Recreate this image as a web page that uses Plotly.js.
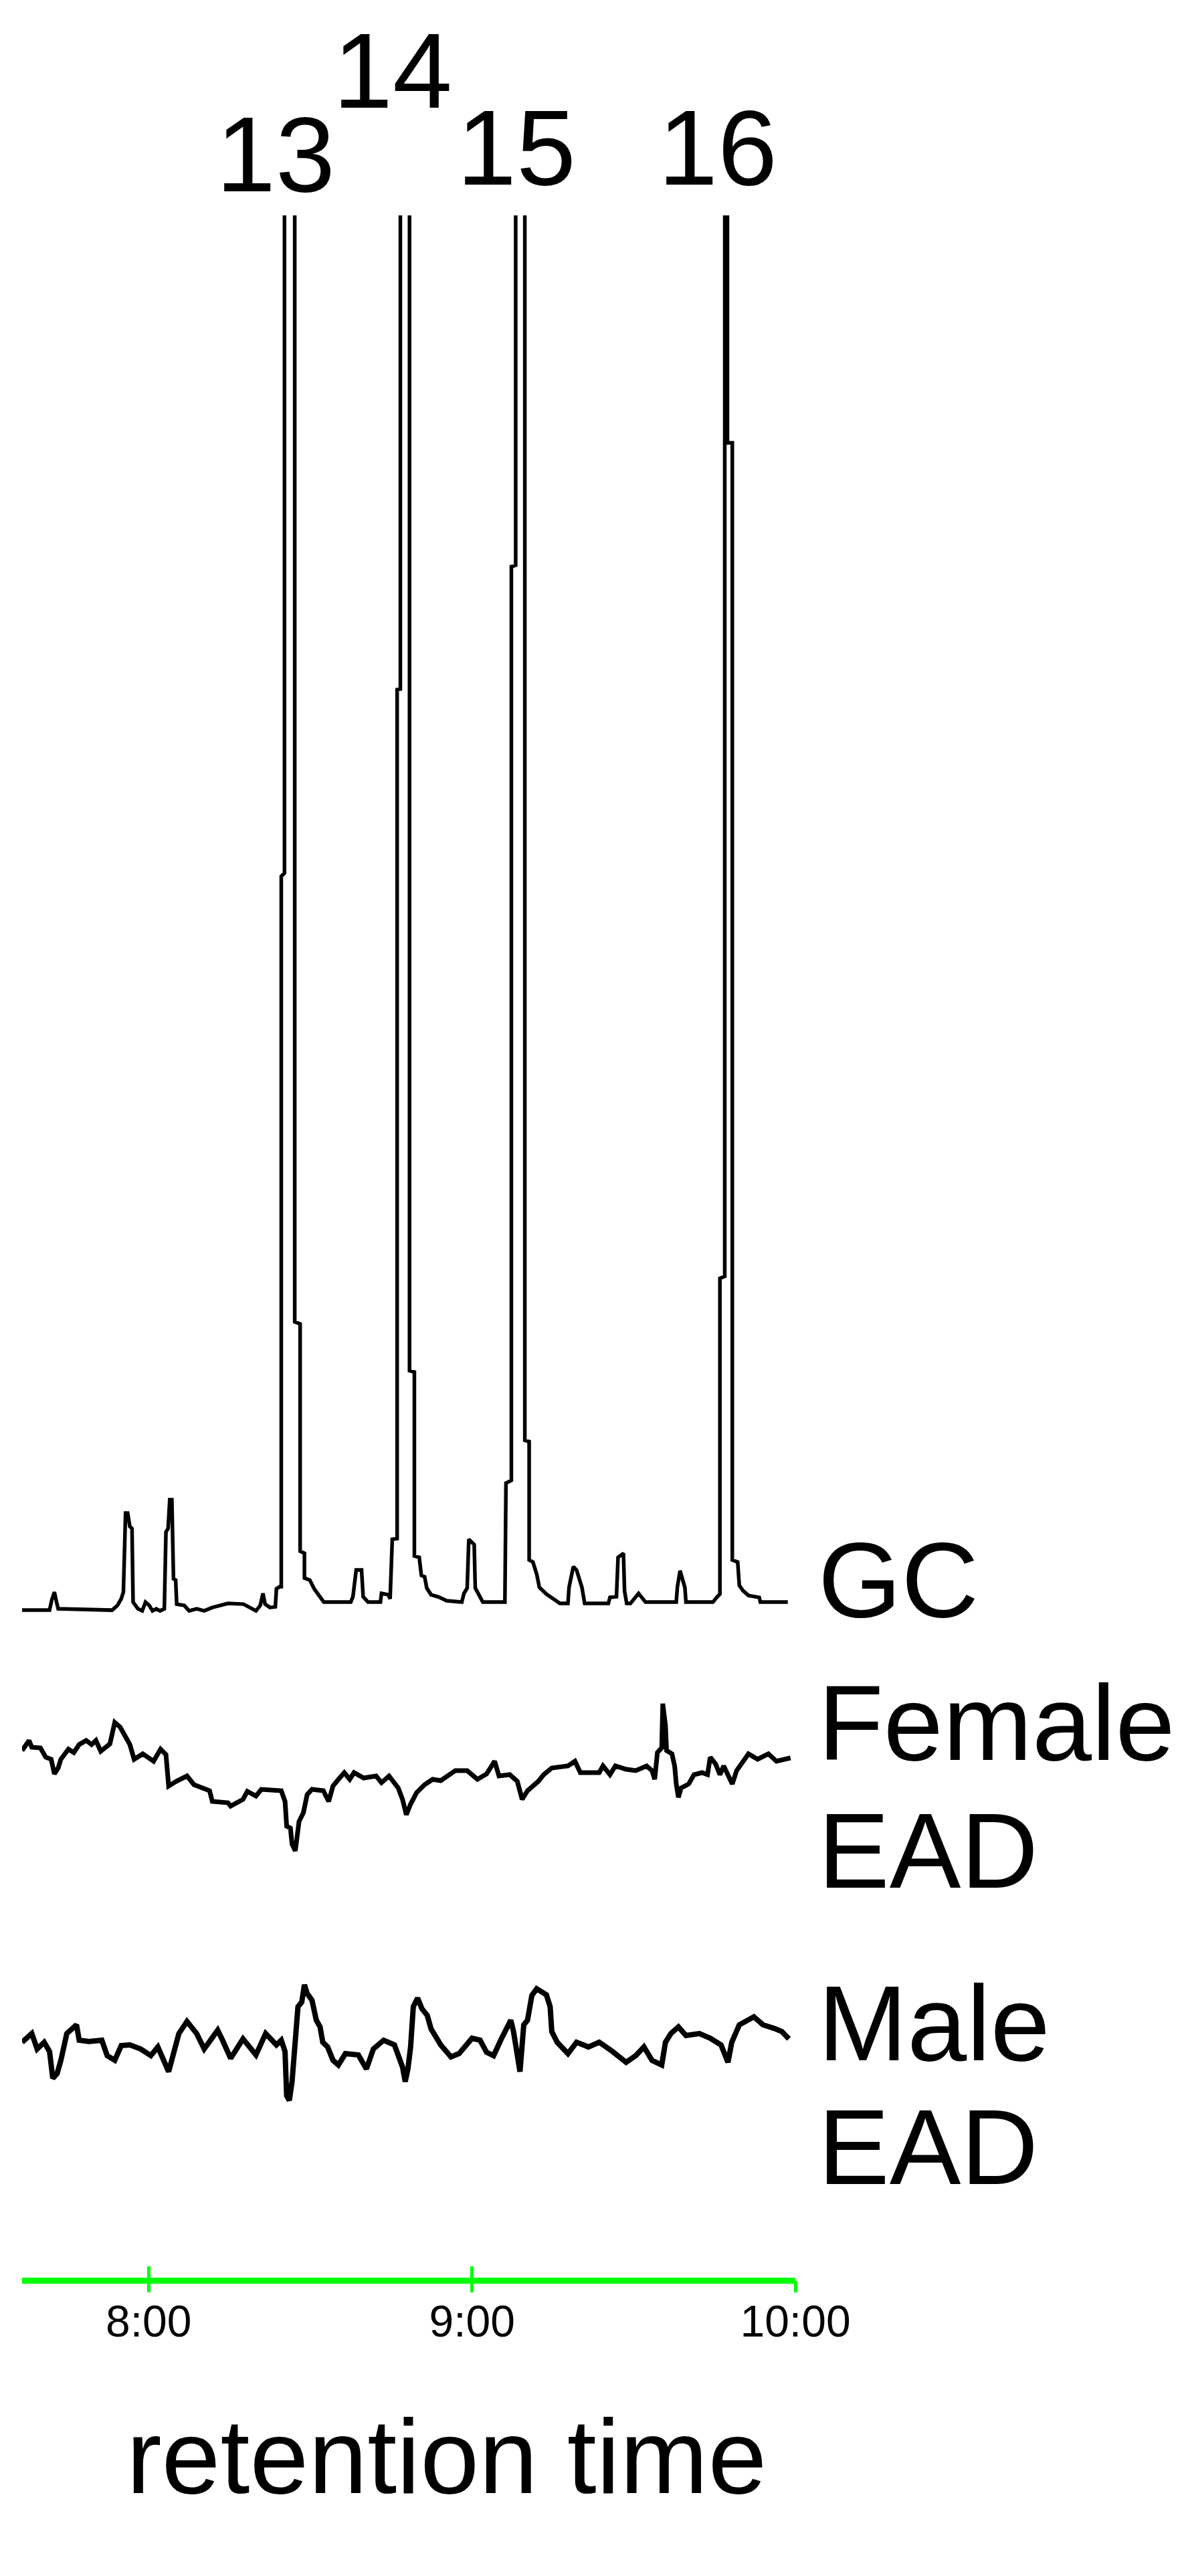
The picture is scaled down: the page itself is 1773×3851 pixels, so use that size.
<!DOCTYPE html>
<html>
<head>
<meta charset="utf-8">
<script src="https://cdn.plot.ly/plotly-3.0.1.min.js"></script>
<style>
  html, body { margin: 0; padding: 0; background: #fff; }
  #plot { width: 1773px; height: 3851px; }
</style>
</head>
<body>
<div id="plot"></div>
<script>
// retention time in seconds, signals in relative units
var gcTime = [456.5, 461.6, 462.0, 462.5, 462.9, 463.2, 473.2, 474.2, 474.9, 475.3, 475.7, 476.1, 476.5, 476.9, 477.1,
  478.0, 478.8, 479.4, 480.1, 480.7, 481.4, 482.1, 482.9, 483.2, 483.6, 483.9, 484.3, 484.6, 485.0, 485.2,
  486.6, 487.5, 488.9, 490.3, 491.8, 494.7, 497.6, 498.9, 499.9, 500.7, 501.2, 501.6, 502.5, 503.5, 503.7,
  504.3, 504.6, 504.6, 505.2, 505.2, 506.1, 507.1, 507.1, 508.1, 508.1, 508.9, 508.9, 509.9, 510.7, 511.6,
  512.5, 517.5, 517.9, 518.5, 519.5, 519.8, 520.7, 523.0, 523.2, 524.5, 524.8, 525.2, 526.1, 526.1, 526.7,
  526.7, 527.6, 528.4, 528.4, 529.3, 529.3, 530.2, 530.6, 531.2, 531.6, 532.4, 533.7, 535.3, 538.1, 538.5,
  539.1, 539.4, 540.4, 540.6, 541.4, 542.0, 546.1, 546.3, 547.3, 547.3, 548.1, 548.1, 548.9, 549.8, 549.8,
  550.6, 550.6, 551.3, 552.0, 552.5, 553.8, 555.3, 556.3, 557.8, 558.0, 558.8, 559.4, 560.4, 560.9, 565.3,
  565.6, 566.8, 567.1, 568.1, 568.3, 568.7, 569.4, 570.9, 572.2, 577.9, 578.1, 578.6, 579.0, 579.5, 579.7,
  584.7, 585.5, 586.0, 586.0, 586.9, 586.9, 587.15, 587.4, 587.4, 588.3, 588.3, 589.3, 589.6, 590.3, 591.3,
  593.3, 593.5, 598.6];
var gcSignal = [0.3, 0.3, 1.8, 3.0, 1.5, 0.5, 0.3, 1.0, 2.0, 3.0, 14.8, 14.8, 12.8, 12.5, 1.5,
  0.5, 0.2, 1.5, 1.0, 0.2, 0.5, 0.2, 0.5, 12.0, 12.5, 16.8, 16.8, 5.0, 4.8, 1.2,
  1.0, 0.2, 0.5, 0.2, 0.7, 1.3, 1.2, 0.7, 0.2, 1.0, 2.8, 1.2, 0.7, 0.8, 3.5,
  3.8, 3.8, 110.0, 110.5, 211, 226, 211, 43.4, 43.1, 9.1, 8.8, 5.1, 4.8, 3.5, 2.5,
  1.5, 1.5, 2.3, 6.3, 6.3, 2.3, 1.5, 1.5, 2.8, 2.6, 2.0, 10.9, 11.0, 137.9, 138.0,
  211, 226, 211, 36.1, 35.9, 8.4, 8.2, 5.5, 5.3, 3.6, 2.6, 2.3, 1.7, 1.5, 2.8,
  3.6, 10.9, 10.1, 3.6, 2.5, 1.5, 1.5, 19.3, 19.7, 156.3, 156.5, 211, 226, 211, 25.7,
  25.5, 7.8, 7.5, 5.7, 3.7, 2.7, 1.8, 1.3, 1.3, 3.7, 6.8, 6.3, 3.7, 1.3, 1.3,
  2.2, 2.3, 8.2, 8.8, 3.2, 1.3, 1.3, 2.8, 1.5, 1.5, 3.7, 6.2, 5.0, 3.7, 1.5,
  1.5, 2.3, 2.7, 49.9, 50.2, 211, 226, 211, 174.8, 174.8, 7.8, 7.5, 4.0, 3.2, 2.5,
  2.2, 1.5, 1.5];

var femaleTime = [456.5, 457.8, 458.3, 459.9, 460.9, 461.9, 462.5, 463.2, 463.7, 465.1, 466.1, 467.1, 468.4, 469.4, 470.2,
  471.1, 472.8, 473.7, 474.7, 475.7, 476.5, 477.3, 478.9, 480.9, 482.2, 483.2, 483.7, 485.1, 487.1, 488.4,
  491.3, 491.8, 494.7, 495.2, 497.5, 498.3, 499.9, 500.9, 503.2, 504.6, 505.3, 505.6, 506.3, 506.6, 507.2,
  507.5, 507.9, 508.7, 509.4, 510.3, 512.4, 513.4, 514.2, 514.9, 516.3, 517.3, 518.1, 519.9, 522.2, 523.2,
  524.6, 526.3, 527.1, 527.8, 528.6, 529.7, 531.2, 532.7, 534.2, 536.9, 539.1, 541.0, 542.7, 544.2, 545.0,
  547.0, 548.4, 549.3, 550.3, 552.3, 553.3, 554.8, 557.8, 559.1, 560.1, 563.6, 564.3, 565.6, 566.6, 568.6,
  570.4, 572.4, 573.4, 573.9, 574.4, 575.2, 575.4, 575.9, 576.1, 577.1, 577.6, 577.9, 578.3, 578.8, 580.2,
  581.2, 582.7, 583.7, 584.2, 585.2, 586.0, 586.7, 587.7, 588.3, 589.1, 590.6, 591.3, 593.0, 595.0, 596.5,
  599.1];
var femaleSignal = [0.33, 0.48, 0.38, 0.37, 0.23, 0.20, -0.02, 0.07, 0.20, 0.35, 0.30, 0.42, 0.48, 0.42, 0.48,
  0.32, 0.43, 0.75, 0.68, 0.53, 0.42, 0.20, 0.28, 0.17, 0.35, 0.27, -0.20, -0.13, -0.05, -0.18,
  -0.27, -0.43, -0.45, -0.50, -0.40, -0.28, -0.35, -0.25, -0.27, -0.27, -0.43, -0.80, -0.83, -1.07, -1.17,
  -0.97, -0.73, -0.60, -0.33, -0.25, -0.27, -0.43, -0.20, -0.13, 0.00, -0.10, 0.00, -0.08, -0.05, -0.15,
  -0.05, -0.23, -0.40, -0.63, -0.47, -0.30, -0.18, -0.10, -0.12, 0.03, 0.03, -0.10, -0.02, 0.17, -0.05,
  -0.03, -0.13, -0.40, -0.27, -0.13, -0.03, 0.07, 0.10, 0.17, 0.00, 0.00, 0.10, -0.03, 0.10, 0.05,
  0.03, 0.10, 0.03, -0.10, 0.30, 0.37, 1.03, 0.70, 0.33, 0.28, 0.10, -0.17, -0.37, -0.23, -0.17,
  -0.03, 0.00, -0.03, 0.23, 0.13, -0.03, 0.10, -0.07, -0.17, 0.03, 0.20, 0.28, 0.20, 0.28, 0.17,
  0.22];

var maleTime = [456.5, 458.3, 459.3, 460.6, 461.6, 462.2, 463.0, 463.7, 464.8, 466.6, 467.1, 468.9, 471.3, 472.3, 473.7,
  474.9, 476.5, 478.5, 480.4, 481.7, 483.7, 485.6, 487.1, 488.9, 490.3, 491.8, 492.8, 493.7, 495.2, 497.5,
  498.9, 499.9, 501.7, 503.7, 504.6, 505.3, 505.6, 506.1, 506.6, 507.2, 507.7, 508.4, 508.9, 509.4, 510.3,
  511.1, 511.8, 512.3, 513.2, 514.2, 515.2, 516.5, 518.9, 520.4, 521.7, 523.6, 525.6, 527.1, 527.6, 528.1,
  528.6, 529.1, 529.9, 530.7, 531.7, 532.4, 534.2, 536.1, 537.6, 540.0, 541.5, 542.7, 544.0, 545.5, 547.2,
  547.7, 548.4, 548.9, 549.6, 550.3, 551.1, 552.0, 553.8, 554.5, 554.8, 555.8, 557.8, 559.4, 561.6, 563.6,
  566.1, 568.6, 570.4, 571.9, 573.4, 575.2, 575.9, 576.9, 578.3, 579.7, 582.2, 584.2, 586.2, 587.5, 588.2,
  589.6, 592.3, 594.0, 596.3, 597.5, 598.8];
var maleSignal = [-0.03, 0.10, -0.13, -0.03, -0.17, -0.57, -0.50, -0.30, 0.10, 0.23, 0.00, -0.02, 0.00, -0.23, -0.30,
  -0.08, -0.07, -0.13, -0.23, -0.10, -0.47, 0.10, 0.28, 0.10, -0.13, 0.03, 0.15, 0.00, -0.27, 0.02,
  -0.12, -0.22, 0.10, -0.07, 0.00, -0.17, -0.83, -0.90, -0.62, -0.07, 0.50, 0.57, 0.83, 0.70, 0.60,
  0.30, 0.20, -0.03, -0.10, -0.30, -0.37, -0.20, -0.22, -0.43, -0.13, 0.00, -0.07, -0.40, -0.62, -0.43,
  -0.10, 0.50, 0.63, 0.47, 0.37, 0.17, -0.07, -0.25, -0.20, 0.03, 0.00, -0.18, -0.23, 0.03, 0.30,
  0.13, -0.17, -0.47, 0.23, 0.30, 0.67, 0.77, 0.68, 0.50, 0.13, -0.03, -0.20, -0.03, -0.10, -0.03,
  -0.17, -0.33, -0.23, -0.10, -0.30, -0.37, -0.03, 0.10, 0.20, 0.07, 0.10, 0.03, -0.07, -0.33, -0.03,
  0.23, 0.35, 0.23, 0.17, 0.13, 0.02];

var tickVals = [480, 540, 600];
var tickText = ['8:00', '9:00', '10:00'];
var peakLabels = ['13', '14', '15', '16'];
var peakLabelTimes = [503.6, 525.3, 548.2, 585.6];
var trackLabels = ['GC', 'Female', 'EAD', 'Male', 'EAD'];

var FONT = '"Liberation Sans", Arial, sans-serif';
var GREEN = '#00ff00';

var traces = [
  { x: gcTime, y: gcSignal, xaxis: 'x', yaxis: 'y', mode: 'lines', name: 'GC',
    line: { color: '#000', width: 5.5 }, hoverinfo: 'skip' },
  { x: femaleTime, y: femaleSignal, xaxis: 'x', yaxis: 'y2', mode: 'lines', name: 'Female EAD',
    line: { color: '#000', width: 7 }, hoverinfo: 'skip' },
  { x: maleTime, y: maleSignal, xaxis: 'x', yaxis: 'y3', mode: 'lines', name: 'Male EAD',
    line: { color: '#000', width: 8 }, hoverinfo: 'skip' }
];

function hiddenY(domain, range) {
  return { domain: domain, range: range, anchor: 'x', showline: false, showgrid: false,
           zeroline: false, showticklabels: false, ticks: '', fixedrange: true };
}

// text labels above the peaks and at the right of each trace
var annotations = peakLabels.map(function (t, i) {
  return { text: t, x: peakLabelTimes[i], xref: 'x', y: i === 1 ? 1.0405 : (i === 0 ? 1.0 : 1.0033),
           yref: 'paper', xanchor: 'center', yanchor: 'bottom', showarrow: false,
           font: { family: FONT, size: 160, color: '#000' } };
});
var trackLabelY = [0.3097, 0.2404, 0.1785, 0.0949, 0.0350];
trackLabels.forEach(function (t, i) {
  annotations.push({ text: t, x: 1.0277, xref: 'paper', y: trackLabelY[i], yref: 'paper',
    xanchor: 'left', yanchor: 'bottom', showarrow: false,
    font: { family: FONT, size: 160, color: '#000' } });
});
annotations.push({ text: 'retention time', x: 0.549, xref: 'paper', y: -0.1144, yref: 'paper',
  xanchor: 'center', yanchor: 'bottom', showarrow: false,
  font: { family: FONT, size: 158, color: '#000' } });

var layout = {
  width: 1773,
  height: 3851,
  margin: { l: 33, r: 584, t: 322, b: 442 },
  paper_bgcolor: '#fff',
  plot_bgcolor: '#fff',
  showlegend: false,
  // main axis: green line, upward ticks and the labels
  xaxis: {
    range: [456.5, 600], anchor: 'free', position: 0,
    showline: true, linecolor: GREEN, linewidth: 9,
    ticks: 'inside', ticklen: 17, tickwidth: 5, tickcolor: GREEN,
    tickvals: tickVals, ticktext: tickText,
    tickfont: { family: FONT, size: 66, color: '#000' },
    showgrid: false, zeroline: false, fixedrange: true
  },
  // second copy only for the downward half of each tick
  xaxis2: {
    range: [456.5, 600], overlaying: 'x', anchor: 'free', position: 0,
    showline: false, ticks: 'outside', ticklen: 17, tickwidth: 5, tickcolor: GREEN,
    tickvals: tickVals, showticklabels: false,
    showgrid: false, zeroline: false, fixedrange: true
  },
  yaxis: hiddenY([0.3171, 1], [-2, 208.8]),
  yaxis2: hiddenY([0.2005, 0.2880], [-1.4, 1.3]),
  yaxis3: hiddenY([0.0677, 0.1519], [-1.5, 1.1]),
  annotations: annotations
};

// invisible point so xaxis2 gets drawn
traces.push({ x: [tickVals[0]], y: [0], xaxis: 'x2', yaxis: 'y3', mode: 'markers',
  marker: { opacity: 0 }, hoverinfo: 'skip', showlegend: false });

Plotly.newPlot('plot', traces, layout, { staticPlot: true });
</script>
</body>
</html>
